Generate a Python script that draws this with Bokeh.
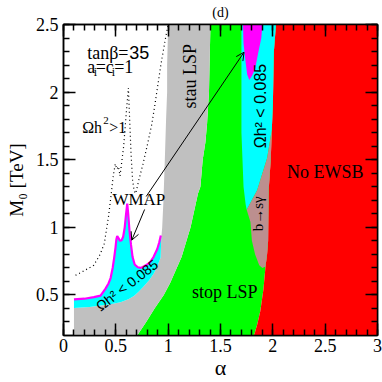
import math
from bokeh.plotting import figure
from bokeh.models import (Range1d, LinearAxis, Label, Arrow, OpenHead,
                          SingleIntervalTicker, NumeralTickFormatter, CustomJSTickFormatter)
from bokeh.embed import file_html
from bokeh.resources import INLINE

# ---------------- data ----------------
# white / stau-LSP(gray) boundary, bottom -> top
gray_left_x = [0.10, 0.10, 0.25, 0.354, 0.45, 0.545, 0.62, 0.673, 0.72, 0.768, 0.82, 0.864, 0.90, 0.928,
               0.934, 0.943, 0.955, 0.968, 0.98, 0.99, 0.99, 1.0]
gray_left_y = [0.20, 0.403, 0.41, 0.422, 0.432, 0.446, 0.468, 0.493, 0.525, 0.564, 0.61, 0.66, 0.72, 0.777,
               0.919, 1.0, 1.2, 1.5, 1.8, 2.0, 2.2, 2.5]

# stau-LSP / stop-LSP boundary, top -> bottom
stop_left_x = [1.404, 1.39, 1.372, 1.356, 1.33, 1.308, 1.285, 1.214, 1.128, 1.02, 0.958, 0.87, 0.79, 0.704]
stop_left_y = [2.5, 2.0, 1.77, 1.63, 1.5, 1.3, 1.25, 1.0, 0.78, 0.59, 0.5, 0.40, 0.30, 0.2]

# No-EWSB boundary, top -> bottom
ewsb_x = [2.03, 2.01, 2.0, 1.99, 1.98, 1.96, 1.955, 1.945, 1.93, 1.91, 1.88, 1.85, 1.82]
ewsb_y = [2.5, 2.3, 1.9, 1.72, 1.5, 1.275, 0.9, 0.8, 0.71, 0.54, 0.38, 0.28, 0.2]

# upper low-density (cyan) region, left edge top -> tip
cyan_up_left_x = [1.70, 1.70, 1.71, 1.72, 1.74, 1.75]
cyan_up_left_y = [2.5, 1.7, 1.5, 1.3, 1.17, 1.13]

# b -> s gamma region: upper edge (tip -> EWSB) and lower edge (tip -> bottom)
bsg_top_x = [1.75, 1.85, 1.945, 1.99]
bsg_top_y = [1.13, 1.275, 1.51, 1.72]
bsg_low_x = [1.75, 1.77, 1.786, 1.80, 1.83, 1.87, 1.90, 1.93]
bsg_low_y = [1.13, 1.08, 1.04, 0.90, 0.80, 0.72, 0.70, 0.71]

# upper WMAP (magenta) blob
wmap_up_x = [1.715, 1.72, 1.74, 1.755, 1.775, 1.80, 1.83, 1.86, 1.89, 1.90]
wmap_up_y = [2.5, 2.36, 2.22, 2.13, 2.09, 2.12, 2.17, 2.29, 2.40, 2.5]

# lower WMAP (magenta) line
wmap_lo_x = [0.10, 0.20, 0.29, 0.354, 0.40, 0.43, 0.45, 0.47, 0.485, 0.497, 0.505, 0.513, 0.525, 0.54,
             0.555, 0.57, 0.585, 0.598, 0.609, 0.618, 0.63, 0.645, 0.66, 0.68, 0.71, 0.74, 0.77, 0.80,
             0.83, 0.86, 0.896, 0.915, 0.93]
wmap_lo_y = [0.467, 0.472, 0.484, 0.495, 0.545, 0.585, 0.625, 0.70, 0.78, 0.85, 0.91, 0.936, 0.92, 0.90,
             0.905, 0.93, 1.0, 1.10, 1.175, 1.10, 0.98, 0.87, 0.78, 0.725, 0.705, 0.70, 0.712, 0.725,
             0.745, 0.78, 0.84, 0.89, 0.94]

# Omega h^2 = 1 contour (dotted)
omega1_x = [0.115, 0.2, 0.29, 0.35, 0.39, 0.43, 0.455, 0.475, 0.495, 0.51, 0.525, 0.54, 0.575, 0.60, 0.62,
            0.632, 0.645, 0.66, 0.675, 0.69, 0.72, 0.76, 0.80, 0.843, 0.87, 0.93, 0.975, 1.0]
omega1_y = [0.645, 0.68, 0.72, 0.80, 0.88, 1.08, 1.24, 1.38, 1.47, 1.43, 1.45, 1.38, 1.6, 1.85, 2.03,
            1.8, 1.55, 1.35, 1.27, 1.25, 1.35, 1.47, 1.605, 1.76, 1.89, 2.2, 2.4, 2.5]

# arrows: (tail, head)
arrow_long = [(0.79, 1.228), (1.725, 2.295)]
arrow_short = [(0.775, 1.132), (0.652, 0.905)]

SERIF = "Liberation Serif"
SANS = "Liberation Sans"

p = figure(width=382, height=382, x_range=Range1d(0, 3), y_range=Range1d(0.2, 2.5),
           output_backend="svg", toolbar_location=None,
           min_border_left=63, min_border_right=5, min_border_top=24, min_border_bottom=35)
p.xgrid.visible = False
p.ygrid.visible = False
p.outline_line_color = "black"
p.outline_line_width = 1.5

p.title.text = "(d)"
p.title.align = "center"
p.title.vertical_align = "top"
p.title.text_font = SERIF
p.title.text_font_size = "14px"
p.title.text_font_style = "normal"
p.title.text_color = "black"
p.title.standoff = 5

# ---------------- regions ----------------
# stop LSP (green)
p.patch(stop_left_x + ewsb_x[::-1], stop_left_y + ewsb_y[::-1], fill_color="#00ff00", line_color=None)

# No EWSB (red)
p.patch(ewsb_x + [3, 3], ewsb_y + [0.2, 2.5], fill_color="#ff0000", line_color=None)

# upper cyan
upper_ewsb = [(x, y) for x, y in zip(ewsb_x, ewsb_y) if y > 1.72]
cx = cyan_up_left_x + bsg_top_x + [x for x, _ in upper_ewsb[::-1]]
cy = cyan_up_left_y + bsg_top_y + [y for _, y in upper_ewsb[::-1]]
p.patch(cx, cy, fill_color="#00ffff", line_color=None)

# b -> s gamma (brown)
mid_ewsb = [(x, y) for x, y in zip(ewsb_x, ewsb_y) if 0.71 < y < 1.72]
bx = bsg_top_x + [x for x, _ in mid_ewsb] + bsg_low_x[::-1]
by = bsg_top_y + [y for _, y in mid_ewsb] + bsg_low_y[::-1]
p.patch(bx, by, fill_color="#bc8f8f", line_color=None)

# upper WMAP blob
p.patch(wmap_up_x, wmap_up_y, fill_color="#ff00ff", line_color=None)

# stau LSP (gray)
p.patch(gray_left_x + stop_left_x, gray_left_y + stop_left_y, fill_color="#c0c0c0", line_color=None)

# lower cyan band
band = [(x, y) for x, y in zip(gray_left_x, gray_left_y) if 0.4 < y < 0.93]
p.patch(wmap_lo_x + [x for x, _ in band[::-1]], wmap_lo_y + [y for _, y in band[::-1]],
        fill_color="#00ffff", line_color=None)

# lower WMAP line
p.line(wmap_lo_x, wmap_lo_y, line_color="#ff00ff", line_width=2.2)

# Omega h^2 = 1 dotted contour
p.line(omega1_x, omega1_y, line_color="black", line_width=1.2, line_dash="1 3")

# arrows
for tail, head in (arrow_long, arrow_short):
    p.add_layout(Arrow(x_start=tail[0], y_start=tail[1], x_end=head[0], y_end=head[1],
                       line_color="black", line_width=1,
                       end=OpenHead(size=8, line_width=1, line_color="black")))

# ---------------- axes ----------------
def style_axis(ax, labels=True):
    ax.ticker = SingleIntervalTicker(interval=0.5, num_minor_ticks=5)
    ax.major_tick_in = 12
    ax.major_tick_out = 0
    ax.minor_tick_in = 6
    ax.minor_tick_out = 0
    ax.major_tick_line_width = 1.5
    ax.minor_tick_line_width = 1.5
    ax.axis_line_width = 1.5
    ax.major_tick_line_color = "black"
    ax.minor_tick_line_color = "black"
    ax.axis_line_color = "black"
    if labels:
        ax.formatter = NumeralTickFormatter(format="0.[0]")
        ax.major_label_text_font = SERIF
        ax.major_label_text_font_size = "18px"
        ax.major_label_text_color = "black"
        ax.axis_label_text_font = SERIF
        ax.axis_label_text_font_style = "normal"
        ax.axis_label_text_color = "black"
    else:
        ax.formatter = CustomJSTickFormatter(code="return ''")
        ax.major_label_standoff = 0

style_axis(p.xaxis[0])
style_axis(p.yaxis[0])
p.xaxis[0].major_label_standoff = 3
p.yaxis[0].major_label_standoff = 5
p.xaxis[0].axis_label = "α"
p.xaxis[0].axis_label_text_font_size = "22px"
p.xaxis[0].axis_label_standoff = 0
p.yaxis[0].axis_label = "M₀ [TeV]"
p.yaxis[0].axis_label_text_font_size = "19px"
p.yaxis[0].axis_label_standoff = 6

top_ax = LinearAxis()
right_ax = LinearAxis()
style_axis(top_ax, labels=False)
style_axis(right_ax, labels=False)
p.add_layout(top_ax, "above")
p.add_layout(right_ax, "right")

# ---------------- texts ----------------
def lab(x, y, text, size, font=SERIF, angle=0, align="center", baseline="middle", dx=0, dy=0):
    p.add_layout(Label(x=x, y=y, text=text, text_font=font, text_font_size=size, angle=angle,
                       text_align=align, text_baseline=baseline, x_offset=dx, y_offset=dy,
                       text_color="black"))

lab(0.226, 2.292, "tanβ=", "18px", align="left", baseline="alphabetic")
lab(0.226, 2.292, "35", "18px", font=SANS, align="left", baseline="alphabetic", dx=42)
lab(0.226, 2.186, "a", "18px", align="left", baseline="alphabetic")
lab(0.226, 2.186, "i", "12px", align="left", baseline="alphabetic", dx=6.5, dy=-5)
lab(0.226, 2.186, "=c", "18px", align="left", baseline="alphabetic", dx=8.5)
lab(0.226, 2.186, "i", "12px", align="left", baseline="alphabetic", dx=24.5, dy=-5)
lab(0.226, 2.186, "=1", "18px", align="left", baseline="alphabetic", dx=27)
lab(0.178, 1.736, "Ωh", "16px", align="left", baseline="alphabetic")
lab(0.178, 1.736, "2", "11px", align="left", baseline="alphabetic", dx=21, dy=7)
lab(0.178, 1.736, ">1", "16px", align="left", baseline="alphabetic", dx=27)

lab(1.205, 2.117, "stau LSP", "18px", angle=math.pi / 2)
lab(0.72, 1.204, "WMAP", "17px")
lab(1.54, 0.52, "stop LSP", "18px")
lab(2.50, 1.41, "No EWSB", "18px")
lab(1.88, 1.897, "Ωh² < 0.085", "16px", font=SANS, angle=math.pi / 2)
lab(0.605, 0.572, "Ωh² < 0.085", "14px", font=SANS, angle=0.66)
lab(1.858, 1.10, "b→sγ", "15px", angle=math.pi / 2)

open("out.html", "w").write(file_html(p, INLINE))
